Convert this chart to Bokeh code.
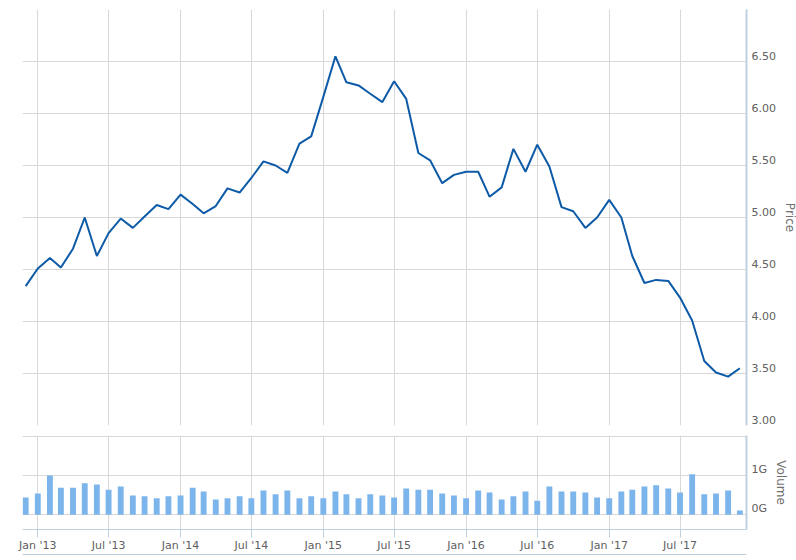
import pandas as pd
from bokeh.plotting import figure
from bokeh.layouts import column
from bokeh.models import (Range1d, FixedTicker, LinearAxis, DatetimeTickFormatter,
                          PrintfTickFormatter, ColumnDataSource)
from bokeh.embed import file_html
from bokeh.resources import INLINE

# ---------------- data ----------------
month_start = "2012-12-01"
n_months = 61
price = [4.34, 4.51, 4.61, 4.52, 4.70, 5.00, 4.63, 4.85, 4.99, 4.90,
         5.01, 5.12, 5.08, 5.22, 5.13, 5.04, 5.11, 5.28, 5.24, 5.38,
         5.54, 5.50, 5.43, 5.71, 5.78, 6.16, 6.55, 6.30, 6.27, 6.19,
         6.11, 6.31, 6.14, 5.62, 5.55, 5.33, 5.41, 5.44, 5.44, 5.20,
         5.29, 5.66, 5.44, 5.70, 5.49, 5.10, 5.06, 4.90, 5.00, 5.17,
         5.00, 4.63, 4.37, 4.40, 4.39, 4.23, 4.01, 3.62, 3.51, 3.47,
         3.55]
volume_g = [0.44, 0.54, 1.00, 0.69, 0.69, 0.80, 0.77, 0.64, 0.72, 0.49,
            0.47, 0.42, 0.47, 0.49, 0.69, 0.59, 0.39, 0.42, 0.47, 0.42,
            0.62, 0.52, 0.62, 0.42, 0.47, 0.42, 0.59, 0.52, 0.42, 0.52,
            0.49, 0.44, 0.67, 0.64, 0.64, 0.54, 0.49, 0.42, 0.62, 0.57,
            0.39, 0.47, 0.59, 0.36, 0.72, 0.59, 0.59, 0.57, 0.44, 0.42,
            0.59, 0.64, 0.72, 0.75, 0.67, 0.57, 1.03, 0.52, 0.54, 0.62,
            0.11]
price_ticks = [3.0, 3.5, 4.0, 4.5, 5.0, 5.5, 6.0, 6.5]
price_grid = [3.0, 3.5, 4.0, 4.5, 5.0, 5.5, 6.0, 6.5, 7.0]
volume_ticks = [0, 1]
volume_grid = [0, 1, 2]
x_tick_dates = ["2013-01-01", "2013-07-01", "2014-01-01", "2014-07-01",
                "2015-01-01", "2015-07-01", "2016-01-01", "2016-07-01",
                "2017-01-01", "2017-07-01"]
x_start, x_end = "2012-11-22 21:00", "2017-12-18"
price_range = (3.0, 7.0)
volume_range = (-0.374, 2.018)

# ---------------- styling ----------------
FONT = "DejaVu Sans"
GRID = "#D8D8D8"
AXIS = "#C0D0E0"
LABEL = "#606060"
TITLE = "#707070"
LINE = "#0d5aa7"
BAR = "#7cb5ec"
LABEL_LIFT_PX = 6          # tick labels sit this many px above their grid line
PRICE_H, VOL_H, FRAME_W = 416, 94, 724

dates = pd.date_range(month_start, periods=n_months, freq="MS")
src = ColumnDataSource(dict(date=dates, price=price, vol=volume_g))
xt = [pd.Timestamp(d).value // 10**6 for d in x_tick_dates]
xr = Range1d(pd.Timestamp(x_start), pd.Timestamp(x_end))


def lifted(rng, frame_h):
    d = LABEL_LIFT_PX * (rng[1] - rng[0]) / frame_h
    return Range1d(rng[0] - d, rng[1] - d)


def right_axis(range_name, ticks, fmt, title):
    ax = LinearAxis(y_range_name=range_name)
    ax.ticker = FixedTicker(ticks=ticks)
    ax.formatter = fmt
    ax.axis_line_color = AXIS
    ax.axis_line_width = 2
    ax.major_tick_out = 0
    ax.major_tick_in = 0
    ax.minor_tick_out = 0
    ax.minor_tick_in = 0
    ax.major_label_standoff = 5
    ax.major_label_text_font = FONT
    ax.major_label_text_font_size = "11px"
    ax.major_label_text_color = LABEL
    ax.axis_label = title
    ax.axis_label_text_font = FONT
    ax.axis_label_text_font_size = "12px"
    ax.axis_label_text_font_style = "normal"
    ax.axis_label_text_color = TITLE
    ax.axis_label_standoff = 4
    return ax

# ---------------- price panel ----------------
p1 = figure(x_axis_type="datetime", x_range=xr, y_range=Range1d(*price_range),
            frame_width=FRAME_W, frame_height=PRICE_H, y_axis_location=None,
            x_axis_location=None, output_backend="svg", toolbar_location=None,
            min_border_left=22, min_border_top=9, min_border_bottom=5,
            min_border_right=0, outline_line_color=None)
p1.extra_y_ranges = {"lab": lifted(price_range, PRICE_H)}
p1.line("date", "price", source=src, line_color=LINE, line_width=2)
p1.add_layout(right_axis("lab", price_ticks, PrintfTickFormatter(format="%.2f"), "Price"), "right")
p1.ygrid.ticker = FixedTicker(ticks=price_grid)
p1.xgrid.ticker = FixedTicker(ticks=xt)
for g in (p1.xgrid, p1.ygrid):
    g.grid_line_color = GRID

# ---------------- volume panel ----------------
p2 = figure(x_axis_type="datetime", x_range=xr, y_range=Range1d(*volume_range),
            frame_width=FRAME_W, frame_height=VOL_H, y_axis_location=None,
            output_backend="svg", toolbar_location=None,
            min_border_left=22, min_border_top=5, min_border_bottom=26,
            min_border_right=0, outline_line_color=None)
p2.extra_y_ranges = {"lab": lifted(volume_range, VOL_H)}
p2.vbar(x="date", top="vol", bottom=0, width=15 * 86400000, source=src,
        fill_color=BAR, line_color=None)
p2.add_layout(right_axis("lab", volume_ticks, PrintfTickFormatter(format="%dG"), "Volume"), "right")
p2.ygrid.ticker = FixedTicker(ticks=volume_grid)
p2.xgrid.ticker = FixedTicker(ticks=xt)
for g in (p2.xgrid, p2.ygrid):
    g.grid_line_color = GRID

xa = p2.xaxis[0]
xa.ticker = FixedTicker(ticks=xt)
fmt = "%b '%y"
xa.formatter = DatetimeTickFormatter(days=fmt, months=fmt, years=fmt, hours=fmt)
xa.axis_line_color = AXIS
xa.major_tick_line_color = AXIS
xa.major_tick_out = 8
xa.major_tick_in = 0
xa.minor_tick_out = 0
xa.minor_tick_in = 0
xa.major_label_standoff = 1
xa.major_label_text_font = FONT
xa.major_label_text_font_size = "11px"
xa.major_label_text_color = LABEL

nav = LinearAxis(ticker=FixedTicker(ticks=[]), major_tick_out=0, major_tick_in=0,
                 minor_tick_out=0, minor_tick_in=0, major_label_standoff=0,
                 axis_line_color=AXIS)
p2.add_layout(nav, "below")

layout = column(p1, p2, spacing=0)
open("out.html", "w").write(file_html(layout, INLINE))
